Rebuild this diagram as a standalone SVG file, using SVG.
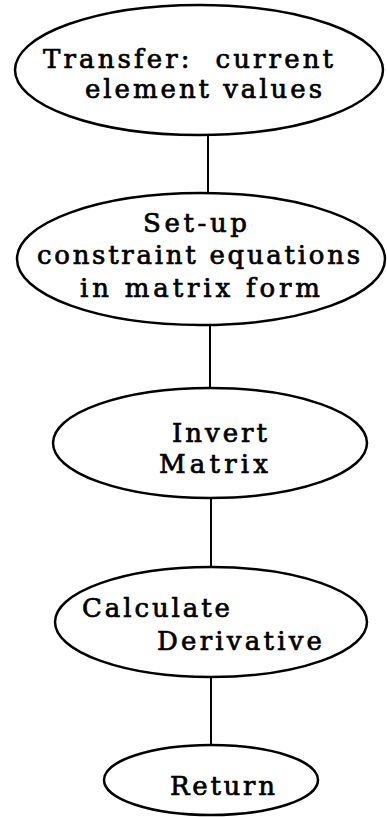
<svg xmlns="http://www.w3.org/2000/svg" width="387" height="817" viewBox="0 0 387 817">
<style>
.n ellipse{fill:#fff;stroke:#000;stroke-width:2.5}
.c line{stroke:#000;stroke-width:2}
text{font-family:"DejaVu Serif","Liberation Serif",serif;font-size:26px;fill:#000;stroke:#000;stroke-width:0.7}
</style>
<rect width="387" height="817" fill="#fff"/>
<g class="c" id="connectors">
<line x1="208" y1="135" x2="208" y2="194"/>
<line x1="210" y1="325" x2="210" y2="390"/>
<line x1="211" y1="498" x2="211" y2="569"/>
<line x1="211" y1="677" x2="211" y2="746"/>
</g>
<g class="n" id="n1">
<ellipse cx="199" cy="70" rx="184" ry="65"/>
<text x="43" y="68" textLength="290" xml:space="preserve">Transfer:  current</text>
<text x="85" y="98" textLength="237">element values</text>
</g>
<g class="n" id="n2">
<ellipse cx="201" cy="259" rx="184" ry="66"/>
<text x="143" y="232" textLength="104">Set-up</text>
<text x="37" y="264" textLength="323">constraint equations</text>
<text x="80" y="297" textLength="240">in matrix form</text>
</g>
<g class="n" id="n3">
<ellipse cx="210" cy="443" rx="157" ry="55"/>
<text x="172" y="442" textLength="95">Invert</text>
<text x="159" y="473" textLength="109">Matrix</text>
</g>
<g class="n" id="n4">
<ellipse cx="211" cy="622" rx="156" ry="55"/>
<text x="82" y="617" textLength="148">Calculate</text>
<text x="157" y="650" textLength="165">Derivative</text>
</g>
<g class="n" id="n5">
<ellipse cx="211" cy="780" rx="107" ry="35"/>
<text x="170" y="795" textLength="105">Return</text>
</g>
</svg>
